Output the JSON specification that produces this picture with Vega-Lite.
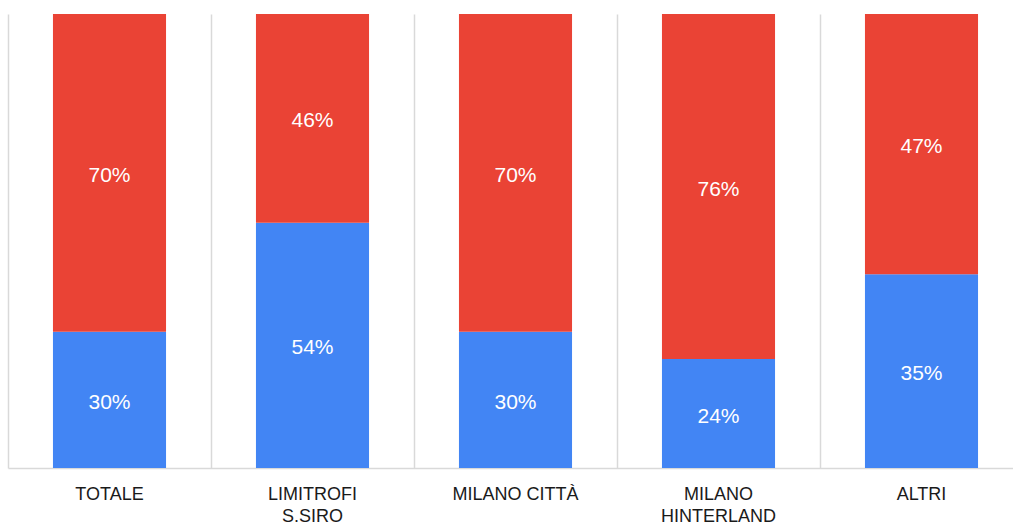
{
  "$schema": "https://vega.github.io/schema/vega-lite/v6.json",
  "autosize": {"type": "none"},
  "width": 1005,
  "height": 454,
  "padding": {"left": 8, "top": 14, "right": 0, "bottom": 57},
  "background": "white",
  "config": {"view": {"stroke": null}},
  "data": {
    "values": [
      {"cat": "TOTALE", "serie": "s1", "ord": 1, "value": 30},
      {"cat": "TOTALE", "serie": "s2", "ord": 2, "value": 70},
      {"cat": "LIMITROFI S.SIRO", "serie": "s1", "ord": 1, "value": 54},
      {"cat": "LIMITROFI S.SIRO", "serie": "s2", "ord": 2, "value": 46},
      {"cat": "MILANO CITTÀ", "serie": "s1", "ord": 1, "value": 30},
      {"cat": "MILANO CITTÀ", "serie": "s2", "ord": 2, "value": 70},
      {"cat": "MILANO HINTERLAND", "serie": "s1", "ord": 1, "value": 24},
      {"cat": "MILANO HINTERLAND", "serie": "s2", "ord": 2, "value": 76},
      {"cat": "ALTRI", "serie": "s1", "ord": 1, "value": 35},
      {"cat": "ALTRI", "serie": "s2", "ord": 2, "value": 47}
    ]
  },
  "transform": [
    {"stack": "value", "groupby": ["cat"], "sort": [{"field": "ord"}], "offset": "normalize", "as": ["y0", "y1"]},
    {"calculate": "(datum.y0 + datum.y1) / 2", "as": "ymid"},
    {"calculate": "datum.value + '%'", "as": "label"}
  ],
  "encoding": {
    "x": {
      "field": "cat",
      "type": "nominal",
      "sort": ["TOTALE", "LIMITROFI S.SIRO", "MILANO CITTÀ", "MILANO HINTERLAND", "ALTRI"],
      "scale": {"paddingInner": 0, "paddingOuter": 0, "range": [0, 1015]},
      "axis": {
        "title": null,
        "labelAngle": 0,
        "grid": true,
        "bandPosition": 0,
        "gridColor": "#d9d9d9",
        "gridWidth": 1.5,
        "ticks": false,
        "domainColor": "#d9d9d9",
        "domainWidth": 1.5,
        "labelFont": "Liberation Sans",
        "labelFontSize": 18,
        "labelColor": "#1a1a1a",
        "labelPadding": 17,
        "labelLineHeight": 22,
        "labelExpr": "datum.value == 'LIMITROFI S.SIRO' ? ['LIMITROFI', 'S.SIRO'] : datum.value == 'MILANO HINTERLAND' ? ['MILANO', 'HINTERLAND'] : datum.value"
      }
    }
  },
  "layer": [
    {
      "mark": {"type": "bar", "width": {"band": 0.557}},
      "encoding": {
        "y": {"field": "y0", "type": "quantitative", "scale": {"domain": [0, 1], "nice": false}, "axis": null},
        "y2": {"field": "y1"},
        "color": {
          "field": "serie",
          "type": "nominal",
          "scale": {"domain": ["s1", "s2"], "range": ["#4285F4", "#EA4335"]},
          "legend": null
        }
      }
    },
    {
      "mark": {"type": "text", "color": "white", "font": "Liberation Sans", "fontSize": 21, "baseline": "middle", "dy": 3},
      "encoding": {
        "y": {"field": "ymid", "type": "quantitative", "scale": {"domain": [0, 1], "nice": false}, "axis": null},
        "text": {"field": "label"}
      }
    }
  ]
}
